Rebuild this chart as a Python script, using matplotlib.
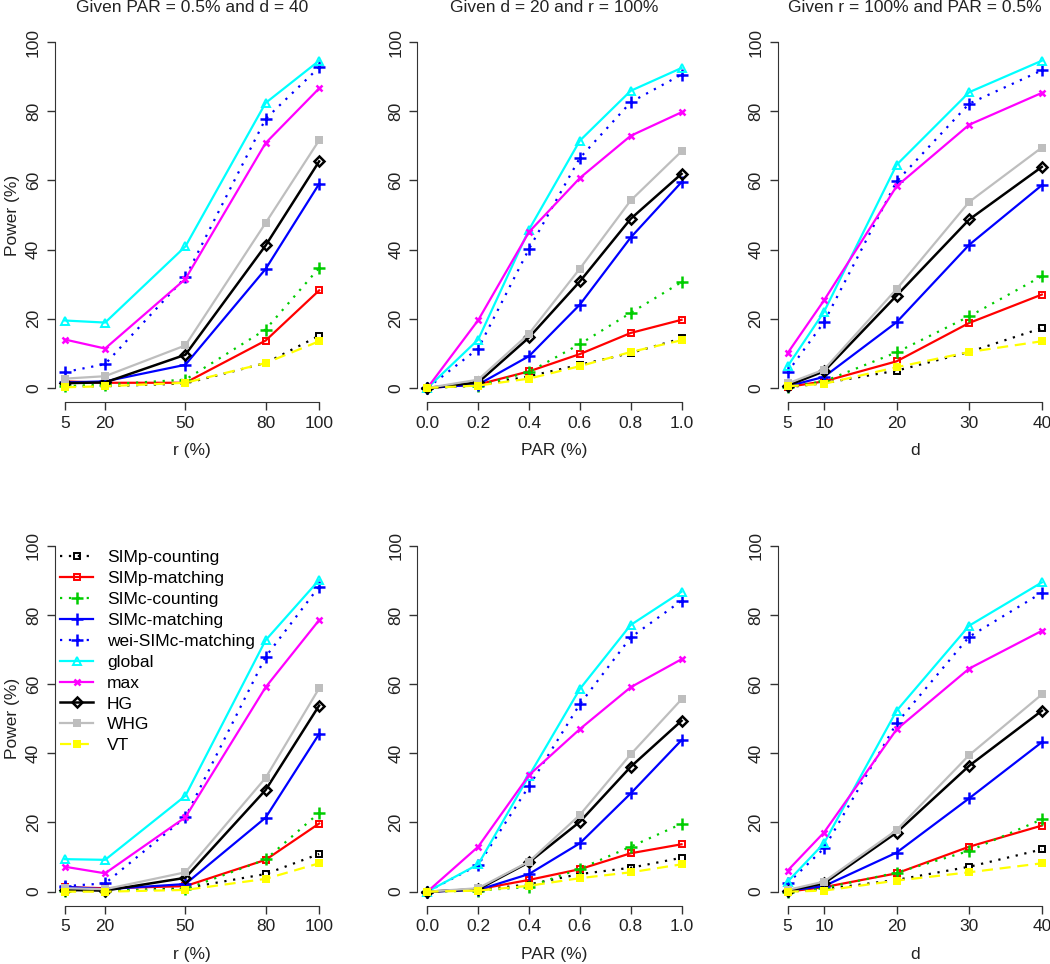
import matplotlib
matplotlib.use("Agg")
import matplotlib.pyplot as plt

plt.rcParams['font.family'] = ['Liberation Sans', 'DejaVu Sans']

methods = ["SIMp-counting", "SIMp-matching", "SIMc-counting", "SIMc-matching",
           "wei-SIMc-matching", "global", "max", "HG", "WHG", "VT"]

# x values
r_vals = [5, 20, 50, 80, 100]
par_vals = [0.0, 0.2, 0.4, 0.6, 0.8, 1.0]
d_vals = [5, 10, 20, 30, 40]

# ---- Top row ----
top_r = {
    "SIMp-counting":     [0.5, 0.5, 1.3, 7.2, 15.1],
    "SIMp-matching":     [1.9, 1.5, 1.5, 13.7, 28.2],
    "SIMc-counting":     [0.5, 1.0, 2.4, 16.9, 34.7],
    "SIMc-matching":     [1.6, 1.9, 6.7, 34.4, 59.0],
    "wei-SIMc-matching": [4.6, 6.9, 32.0, 77.8, 92.7],
    "global":            [19.5, 18.9, 40.9, 82.4, 94.6],
    "max":               [14.0, 11.4, 31.5, 70.8, 86.6],
    "HG":                [1.4, 1.6, 9.6, 41.2, 65.5],
    "WHG":               [2.7, 3.4, 12.3, 47.7, 71.6],
    "VT":                [0.2, 0.5, 1.5, 7.2, 13.5],
}
top_par = {
    "SIMp-counting":     [0.0, 0.7, 3.4, 6.7, 10.1, 14.3],
    "SIMp-matching":     [0.0, 1.0, 4.8, 9.8, 15.9, 19.7],
    "SIMc-counting":     [0.0, 0.7, 4.6, 12.7, 21.7, 30.6],
    "SIMc-matching":     [0.0, 1.0, 9.2, 24.1, 43.5, 59.5],
    "wei-SIMc-matching": [0.0, 11.4, 40.2, 66.5, 82.6, 90.6],
    "global":            [0.0, 14.0, 45.8, 71.5, 85.9, 92.5],
    "max":               [0.0, 19.6, 45.1, 60.7, 72.9, 79.7],
    "HG":                [0.0, 1.6, 14.6, 30.8, 48.9, 61.9],
    "WHG":               [0.0, 2.4, 15.7, 34.5, 54.2, 68.4],
    "VT":                [0.0, 0.7, 2.7, 6.3, 10.4, 13.8],
}
top_d = {
    "SIMp-counting":     [0.2, 1.4, 5.0, 10.4, 17.3],
    "SIMp-matching":     [0.3, 1.9, 7.7, 18.8, 27.0],
    "SIMc-counting":     [0.3, 1.9, 10.3, 20.7, 32.3],
    "SIMc-matching":     [0.5, 3.2, 19.0, 41.4, 58.6],
    "wei-SIMc-matching": [4.6, 19.0, 59.7, 82.2, 91.8],
    "global":            [6.3, 22.0, 64.5, 85.5, 94.6],
    "max":               [10.1, 25.3, 58.3, 76.1, 85.3],
    "HG":                [0.7, 4.8, 26.7, 48.7, 63.9],
    "WHG":               [1.3, 5.3, 28.6, 53.8, 69.5],
    "VT":                [0.5, 1.2, 6.0, 10.4, 13.5],
}

# ---- Bottom row ----
bot_r = {
    "SIMp-counting":     [0.2, 0.2, 1.0, 5.1, 10.9],
    "SIMp-matching":     [1.3, 1.0, 1.6, 9.2, 19.7],
    "SIMc-counting":     [0.3, 0.3, 0.7, 9.3, 22.8],
    "SIMc-matching":     [1.4, 0.7, 2.2, 21.4, 45.6],
    "wei-SIMc-matching": [1.6, 2.4, 21.5, 67.9, 88.2],
    "global":            [9.4, 9.2, 27.7, 72.7, 90.1],
    "max":               [7.2, 5.3, 21.5, 59.1, 78.5],
    "HG":                [0.5, 0.3, 4.0, 29.4, 53.8],
    "WHG":               [1.0, 0.7, 5.6, 32.9, 58.8],
    "VT":                [0.0, 0.0, 0.5, 3.7, 8.2],
}
bot_par = {
    "SIMp-counting":     [0.0, 0.5, 2.1, 5.1, 6.9, 9.8],
    "SIMp-matching":     [0.0, 0.7, 3.4, 6.5, 11.1, 13.7],
    "SIMc-counting":     [0.0, 0.3, 1.4, 6.6, 13.0, 19.6],
    "SIMc-matching":     [0.0, 0.5, 5.1, 14.0, 28.4, 43.8],
    "wei-SIMc-matching": [0.0, 7.7, 30.5, 54.2, 73.5, 84.1],
    "global":            [0.0, 7.9, 33.5, 58.6, 77.1, 86.7],
    "max":               [0.0, 13.0, 33.7, 47.0, 59.1, 67.2],
    "HG":                [0.0, 0.7, 8.5, 20.2, 36.1, 49.4],
    "WHG":               [0.0, 1.0, 8.7, 22.2, 39.7, 55.6],
    "VT":                [0.0, 0.3, 1.7, 3.9, 5.6, 7.9],
}
bot_d = {
    "SIMp-counting":     [0.0, 0.7, 3.4, 7.2, 12.2],
    "SIMp-matching":     [0.0, 1.3, 5.3, 13.0, 19.1],
    "SIMc-counting":     [0.0, 1.0, 5.5, 11.8, 20.9],
    "SIMc-matching":     [0.3, 1.6, 11.3, 27.0, 43.2],
    "wei-SIMc-matching": [2.4, 12.5, 48.7, 73.7, 86.4],
    "global":            [2.9, 14.0, 52.3, 76.9, 89.4],
    "max":               [6.1, 17.1, 46.9, 64.5, 75.4],
    "HG":                [0.3, 2.4, 17.1, 36.4, 52.3],
    "WHG":               [0.5, 2.9, 17.8, 39.5, 57.0],
    "VT":                [0.0, 0.3, 3.2, 5.6, 8.2],
}

titles = ["Given PAR = 0.5% and d = 40", "Given d = 20 and r = 100%",
          "Given r = 100% and PAR = 0.5%"]
xlabels = ["r (%)", "PAR (%)", "d"]
xtick_labels = [["5", "20", "50", "80", "100"],
                ["0.0", "0.2", "0.4", "0.6", "0.8", "1.0"],
                ["5", "10", "20", "30", "40"]]
ytick_vals = [0, 20, 40, 60, 80, 100]

styles = {
    "SIMp-counting":     dict(color="black", ls=(0, (1, 3)), marker="s", ms=4, mfc="none", mew=1.4, lw=1.6),
    "SIMp-matching":     dict(color="#FF0000", ls="-", marker="s", ms=4, mfc="none", mew=1.4, lw=1.6),
    "SIMc-counting":     dict(color="#00CD00", ls=(0, (1, 3)), marker="+", ms=8.5, mew=1.8, lw=1.6),
    "SIMc-matching":     dict(color="#0000FF", ls="-", marker="+", ms=8.5, mew=1.8, lw=1.6),
    "wei-SIMc-matching": dict(color="#0000FF", ls=(0, (1, 3)), marker="+", ms=8.5, mew=1.8, lw=1.6),
    "global":            dict(color="#00FFFF", ls="-", marker="^", ms=6, mfc="none", mew=1.4, lw=1.6),
    "max":               dict(color="#FF00FF", ls="-", marker="x", ms=5, mew=1.8, lw=1.6),
    "HG":                dict(color="black", ls="-", marker="D", ms=5.5, mfc="none", mew=1.8, lw=1.8),
    "WHG":               dict(color="#BEBEBE", ls="-", marker="s", ms=6, mew=0, lw=1.6),
    "VT":                dict(color="#FFFF00", ls=(0, (5, 3)), marker="s", ms=6, mew=0, lw=1.6),
}

fig = plt.figure(figsize=(10.5, 9.64), dpi=100)
W, H = 1050.0, 964.0
lefts = [54.8, 417.2, 777.5]
width = 274.5
tops = [28.2, 531.9]
height = 373.6

xs = [r_vals, par_vals, d_vals]
datasets = [[top_r, top_par, top_d], [bot_r, bot_par, bot_d]]

for row in range(2):
    for col in range(3):
        ax = fig.add_axes([lefts[col] / W, 1 - (tops[row] + height) / H, width / W, height / H])
        x = xs[col]
        data = datasets[row][col]
        for m in methods:
            st = styles[m]
            ax.plot(x, data[m], label=m, color=st["color"], linestyle=st["ls"],
                    linewidth=st["lw"], marker=st["marker"], markersize=st["ms"],
                    markerfacecolor=st.get("mfc", st["color"]),
                    markeredgecolor=st["color"], markeredgewidth=st["mew"],
                    clip_on=False)
        span = x[-1] - x[0]
        ax.set_xlim(x[0] - 0.04 * span, x[-1] + 0.04 * span)
        ax.set_ylim(-4, 104)
        for s in ["top", "right"]:
            ax.spines[s].set_visible(False)
        ax.spines["left"].set_bounds(0, 100)
        ax.spines["bottom"].set_bounds(x[0], x[-1])
        ax.spines["left"].set_color("#333333")
        ax.spines["bottom"].set_color("#333333")
        ax.set_xticks(x)
        ax.set_xticklabels(xtick_labels[col])
        ax.set_yticks(ytick_vals)
        ax.set_yticklabels([str(v) for v in ytick_vals], rotation=90, va="center")
        ax.tick_params(axis="both", direction="out", length=6, width=1, color="#333333",
                       labelsize=12.5, pad=4, labelcolor="#222222")
        ax.set_xlabel(xlabels[col], fontsize=12.5, labelpad=9, color="#222222")
        if col == 0:
            ax.set_ylabel("Power (%)", fontsize=12.5, labelpad=4, color="#222222")
        if row == 0:
            ax.set_title(titles[col], fontsize=12.5, pad=12, color="#222222")
        if row == 1 and col == 0:
            ax.legend(loc="upper left", bbox_to_anchor=(0.0, 0.965), frameon=False,
                      fontsize=12.5, handlelength=1.9, handletextpad=0.8,
                      labelspacing=0.33, borderaxespad=0.0, borderpad=0.3)

fig.savefig("out.png", dpi=100)
